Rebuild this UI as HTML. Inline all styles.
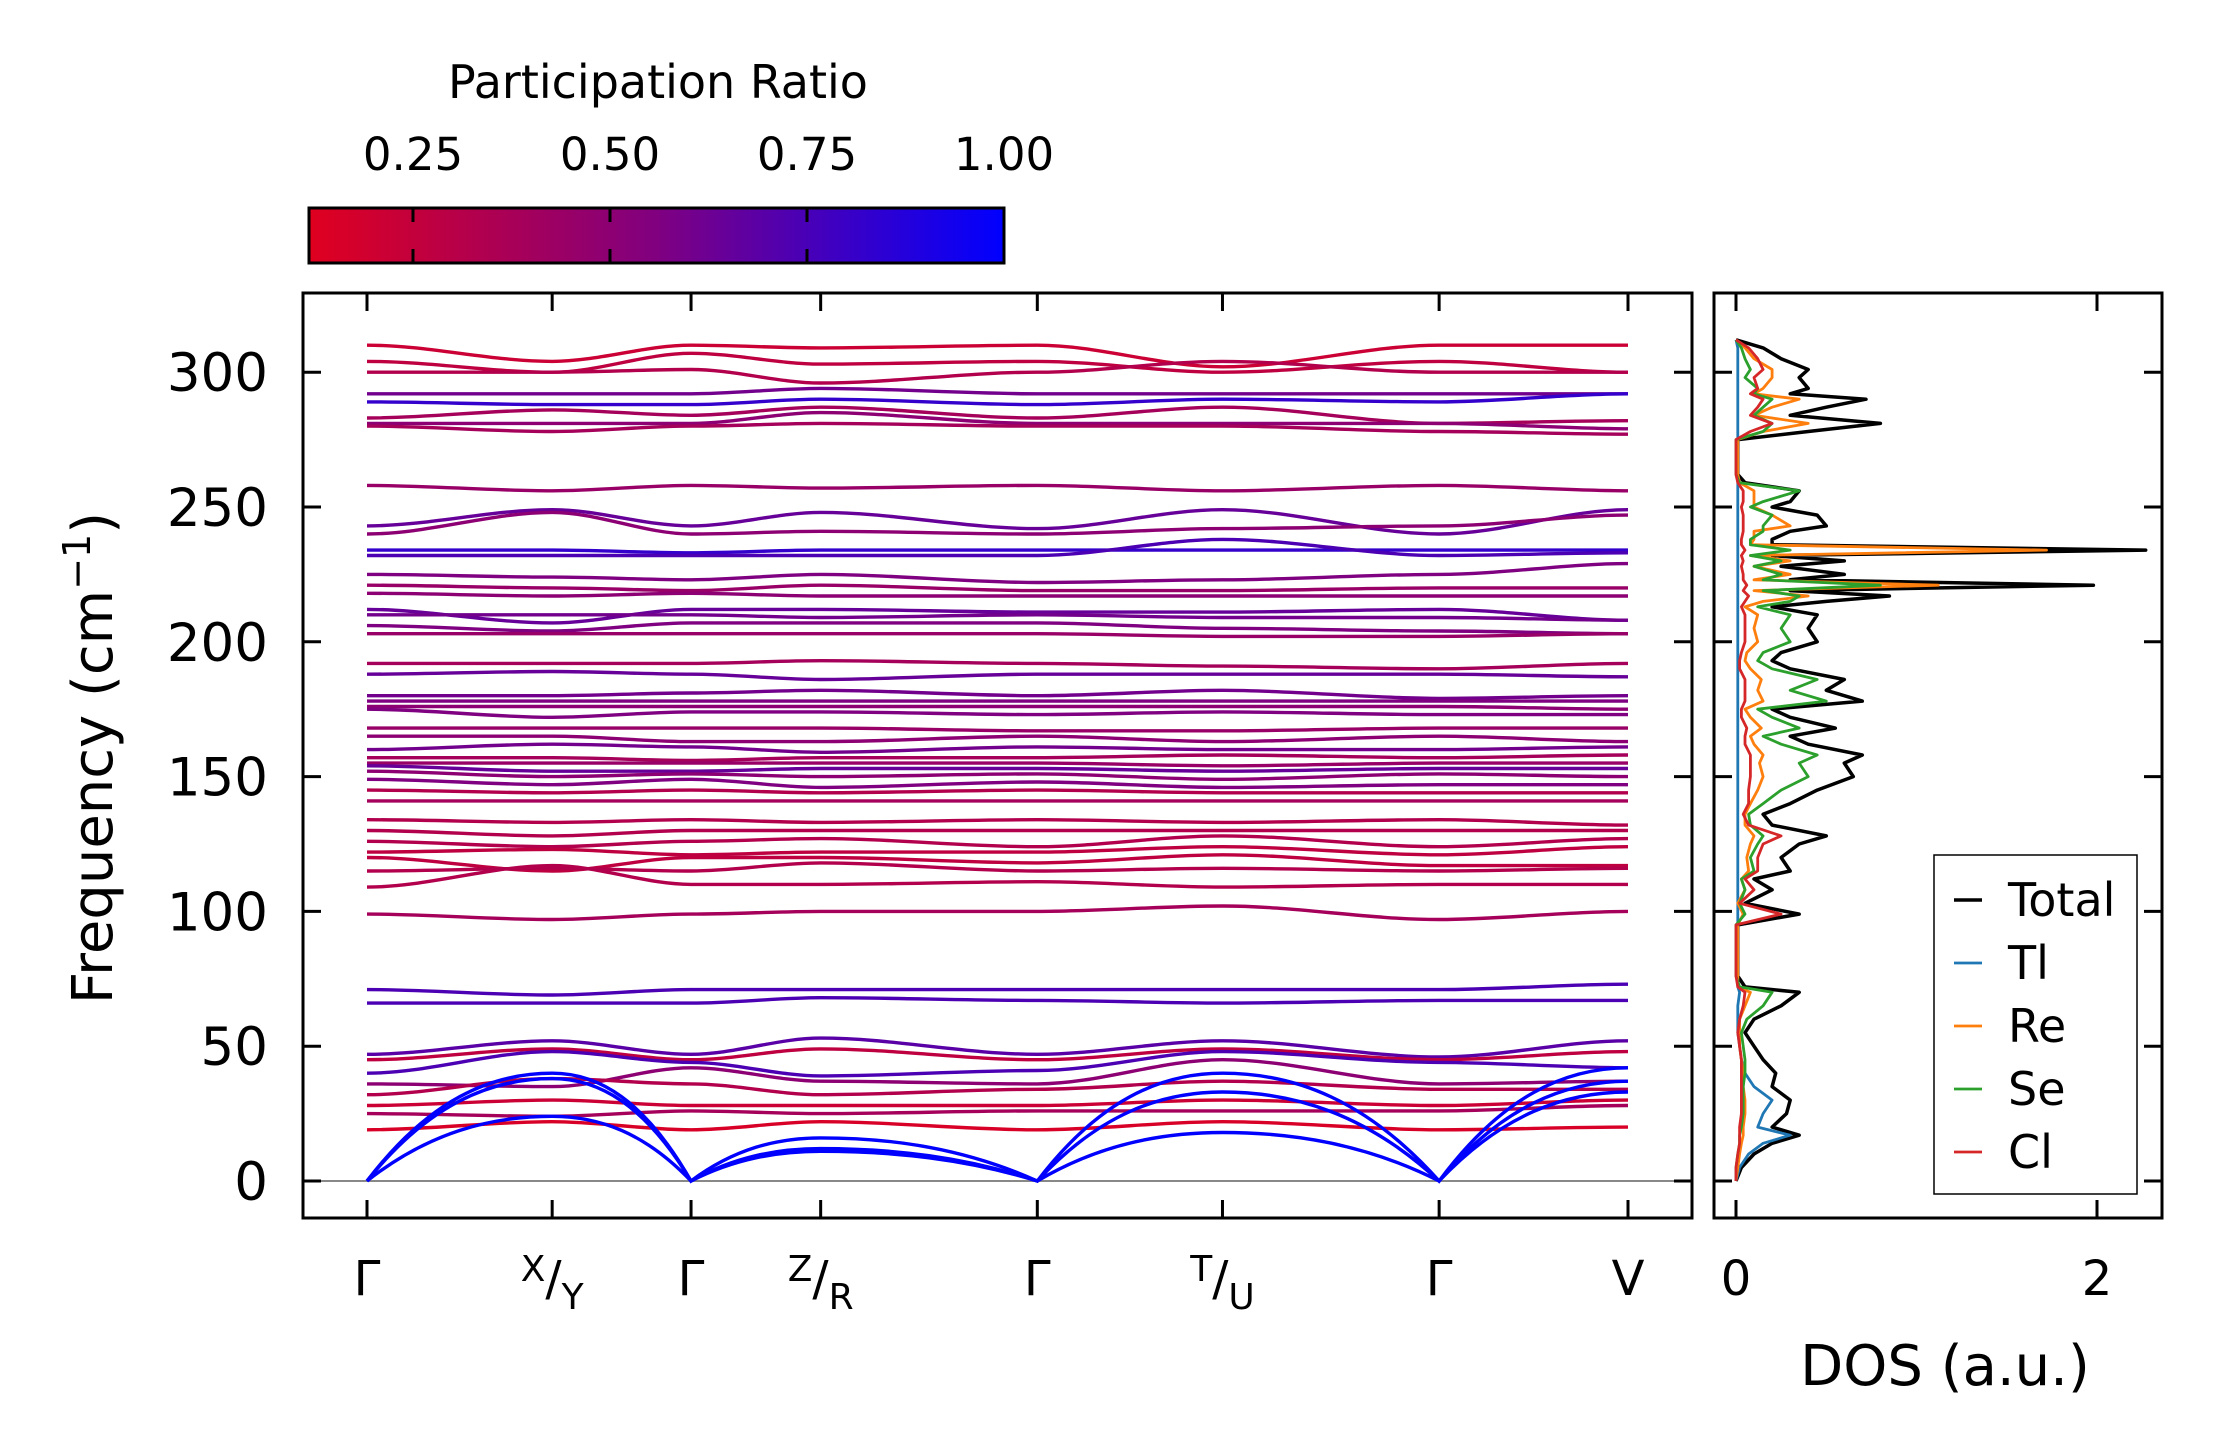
<!DOCTYPE html>
<html><head><meta charset="utf-8"><style>
html,body{margin:0;padding:0;background:#fff;}
svg{display:block;font-family:"DejaVu Sans","Liberation Sans",sans-serif;}
</style></head><body>
<svg id="chart" width="2222" height="1455" viewBox="0 0 2222 1455" xmlns="http://www.w3.org/2000/svg">
<defs>
<linearGradient id="cbgrad" x1="0" x2="1" y1="0" y2="0">
<stop offset="0" stop-color="#e0001f"/><stop offset="0.5" stop-color="#800080"/><stop offset="1" stop-color="#0000ff"/>
</linearGradient>
<clipPath id="mainclip"><rect x="303" y="293" width="1389" height="925"/></clipPath>
<clipPath id="dosclip"><rect x="1714" y="293" width="448" height="925"/></clipPath>
</defs>
<g id="colorbar">
<text x="658" y="98" font-size="46" text-anchor="middle">Participation Ratio</text>
<rect x="309" y="208" width="695" height="55" fill="url(#cbgrad)" stroke="#000" stroke-width="3"/>
</g>
<g id="mainplot">
<line x1="303" x2="1692" y1="1181" y2="1181" stroke="#888" stroke-width="2"/>
<g id="bands" clip-path="url(#mainclip)"></g>
<rect x="303" y="293" width="1389" height="925" fill="none" stroke="#000" stroke-width="3"/>
<g id="mainticks"></g>
<text transform="translate(112,758) rotate(-90)" font-size="56" text-anchor="middle">Frequency (cm<tspan baseline-shift="super" font-size="38">−1</tspan>)</text>
</g>
<g id="dosplot">
<g id="doslines" clip-path="url(#dosclip)"></g>
<rect x="1714" y="293" width="448" height="925" fill="none" stroke="#000" stroke-width="3"/>
<g id="dosticks"></g>
<text x="1945" y="1385" font-size="56" text-anchor="middle">DOS (a.u.)</text>
<g id="legend">
<rect x="1934" y="855" width="203" height="339" fill="#fff" stroke="#000" stroke-width="1.5"/>
</g>
</g>
</svg>
<script>
// ---------- data ----------
const kLabels = ["Γ","X/Y","Γ","Z/R","Γ","T/U","Γ","V"];
const kPositions = [0, 1.0, 1.75, 2.45, 3.62, 4.62, 5.79, 6.81]; // path distance units
const yTicks = [0,50,100,150,200,250,300];
const cbTicks = [0.25,0.50,0.75,1.00];
const cbTickLabels = ["0.25","0.50","0.75","1.00"];
// each band: frequencies at the 8 high-symmetry nodes
const bandFreqs = [
[310,304,310,309,310,302,310,310],[304,300,307,303,304,300,304,300],[300,300,301,296,300,304,300,300],
[292,292,292,294,292,292,292,292],[289,288,288,290,288,290,289,292],[283,286,284,287,283,287,281,282],
[281,281,281,285,281,281,281,279],[280,278,280,281,280,280,278,277],[258,256,258,257,258,256,258,256],
[243,249,243,248,242,249,240,249],[240,248,240,241,240,242,243,247],[234,234,233,234,234,234,234,234],
[232,232,232,232,232,238,232,233],[225,224,223,225,222,223,225,229],[221,220,219,221,219,219,220,220],
[218,217,218,217,217,217,217,217],[212,207,212,212,211,211,212,208],[210,210,210,209,210,209,209,208],
[206,204,207,207,207,205,204,203],[203,203,203,203,203,202,202,203],[192,192,192,193,192,191,190,192],
[188,189,188,186,188,188,188,187],[180,180,181,182,180,182,179,180],[178,178,178,178,178,178,178,178],
[176,176,176,176,176,176,176,175],[175,172,174,174,173,174,173,173],[168,168,168,168,167,167,168,168],
[165,165,163,163,165,163,165,163],[160,162,161,159,161,160,160,161],[157,157,156,157,157,158,157,158],
[155,155,155,155,155,154,155,155],[154,152,152,153,153,152,153,153],[152,150,151,150,151,149,151,150],
[149,147,149,146,148,146,147,147],[145,144,145,144,145,144,144,144],[141,141,141,141,141,141,141,141],
[134,133,134,133,134,133,134,132],[130,128,130,130,130,130,130,130],[126,124,126,127,124,128,124,127],
[122,123,121,122,122,124,121,124],[120,115,120,120,118,121,117,117],[115,116,115,118,115,116,115,116],
[109,117,110,110,111,109,110,110],[99,97,99,100,100,102,97,100],
[71,69,71,71,71,71,71,73],[66,66,66,68,67,66,67,67],[47,52,47,53,47,52,46,52],[45,49,45,49,45,49,45,48],
[40,48,44,39,41,48,44,42],[36,35,42,37,36,45,36,37],[32,38,36,32,34,37,34,34],[28,30,28,28,28,30,28,30],
[25,24,26,25,26,26,26,28],[19,22,19,22,19,22,19,20],
[0,40,0,16,0,40,0,42],[0,38,0,12,0,33,0,37],[0,24,0,11,0,18,0,33]
];
const bandPR = [0.2,0.25,0.3,0.55,0.8,0.35,0.45,0.35,0.4,0.6,0.45,0.8,0.7,0.5,0.4,0.45,0.6,0.55,0.5,0.4,0.35,0.6,0.55,0.5,0.45,0.5,0.4,0.45,0.55,0.35,0.4,0.6,0.45,0.5,0.3,0.35,0.3,0.3,0.3,0.25,0.25,0.3,0.3,0.35,0.7,0.7,0.65,0.25,0.7,0.45,0.3,0.2,0.35,0.15,1,1,1];
// DOS
const dosFreq  = [0,5,10,14,17,20,25,30,35,40,45,50,55,60,65,70,72,76,85,95,99,103,108,112,115,120,125,128,132,136,140,145,150,155,158,162,165,168,172,175,178,182,186,190,193,196,200,205,210,213,215,217,219,221,223,225,228,230,232,234,236,238,241,243,247,250,252,256,259,262,268,275,278,281,284,287,290,292,294,298,301,305,309,312];
const dosTotal = [0,0.03,0.1,0.2,0.35,0.2,0.28,0.3,0.2,0.22,0.15,0.1,0.05,0.1,0.25,0.35,0.05,0.01,0.01,0.01,0.35,0.05,0.2,0.1,0.3,0.25,0.35,0.5,0.2,0.15,0.3,0.45,0.65,0.6,0.7,0.4,0.3,0.55,0.3,0.2,0.7,0.5,0.6,0.3,0.2,0.25,0.45,0.4,0.45,0.2,0.5,0.85,0.3,1.98,0.3,0.6,0.25,0.6,0.2,2.27,0.2,0.2,0.3,0.5,0.45,0.2,0.3,0.35,0.05,0.01,0.01,0.01,0.4,0.8,0.3,0.5,0.72,0.3,0.4,0.35,0.4,0.25,0.15,0];
const dosTl    = [0,0.02,0.07,0.15,0.3,0.12,0.15,0.2,0.1,0.05,0.03,0.02,0.01,0.01,0.01,0.02,0.01,0.01,0.01,0.01,0.01,0.01,0.01,0.01,0.01,0.01,0.01,0.01,0.01,0.01,0.01,0.01,0.01,0.01,0.01,0.01,0.01,0.01,0.01,0.01,0.01,0.01,0.01,0.01,0.01,0.01,0.01,0.01,0.01,0.01,0.01,0.01,0.01,0.01,0.01,0.01,0.01,0.01,0.01,0.01,0.01,0.01,0.01,0.01,0.01,0.01,0.01,0.01,0.01,0.01,0.01,0.01,0.01,0.01,0.01,0.01,0.01,0.01,0.01,0.01,0.01,0.01,0.01,0];
const dosRe    = [0,0.01,0.02,0.03,0.04,0.04,0.05,0.05,0.04,0.04,0.03,0.02,0.02,0.02,0.05,0.08,0.01,0.01,0.01,0.01,0.04,0.01,0.05,0.03,0.07,0.06,0.08,0.1,0.05,0.05,0.08,0.12,0.15,0.13,0.15,0.1,0.08,0.14,0.08,0.05,0.15,0.12,0.14,0.08,0.05,0.06,0.12,0.1,0.12,0.05,0.15,0.4,0.1,1.12,0.1,0.3,0.1,0.3,0.08,1.72,0.08,0.1,0.1,0.3,0.2,0.1,0.1,0.1,0.02,0.01,0.01,0.01,0.15,0.4,0.1,0.2,0.35,0.1,0.15,0.2,0.2,0.1,0.05,0];
const dosSe    = [0,0.0,0.01,0.02,0.02,0.03,0.04,0.04,0.04,0.05,0.05,0.04,0.03,0.06,0.15,0.2,0.02,0.0,0.0,0.0,0.05,0.02,0.05,0.03,0.1,0.08,0.12,0.15,0.08,0.07,0.15,0.25,0.4,0.35,0.45,0.25,0.15,0.35,0.2,0.12,0.5,0.3,0.45,0.2,0.12,0.15,0.3,0.25,0.3,0.12,0.3,0.35,0.15,0.8,0.15,0.25,0.1,0.25,0.08,0.3,0.08,0.08,0.15,0.15,0.2,0.08,0.15,0.35,0.02,0.0,0.0,0.0,0.15,0.2,0.1,0.15,0.2,0.1,0.12,0.05,0.08,0.05,0.03,0];
const dosCl    = [0,0.0,0.01,0.02,0.02,0.02,0.03,0.03,0.03,0.03,0.03,0.02,0.01,0.02,0.04,0.05,0.01,0.0,0.0,0.0,0.25,0.02,0.1,0.05,0.12,0.12,0.15,0.25,0.07,0.04,0.07,0.07,0.08,0.08,0.08,0.05,0.05,0.06,0.03,0.03,0.05,0.05,0.05,0.02,0.02,0.03,0.05,0.05,0.05,0.03,0.05,0.07,0.04,0.06,0.04,0.04,0.03,0.04,0.03,0.05,0.03,0.03,0.04,0.04,0.04,0.03,0.04,0.04,0.01,0.0,0.0,0.0,0.08,0.2,0.08,0.12,0.15,0.08,0.12,0.1,0.15,0.12,0.07,0];
const dosSeriesNames = ["Total","Tl","Re","Se","Cl"];
const dosColors = ["#000000","#1f77b4","#ff7f0e","#2ca02c","#d62728"];
const dosTicks = [0,2];

// ---------- axes ----------
const NS="http://www.w3.org/2000/svg";
const X0=367, X1=1628;
const xk = d => X0 + (d-kPositions[0])/(kPositions[kPositions.length-1]-kPositions[0])*(X1-X0);
const yf = f => 1181 - f*(134.8/50);
const xd = v => 1736 + v*(361/2);
const xcb = p => 413 + (p-0.25)*(197/0.25);
function el(tag, attrs, parent){const e=document.createElementNS(NS,tag);for(const k in attrs)e.setAttribute(k,attrs[k]);parent.appendChild(e);return e;}
function prColor(p){let t=Math.max(0,Math.min(1,(p-0.118)/0.882));const r=Math.round(224*(1-t)),b=Math.round(31*(1-t)+255*t);return `rgb(${r},0,${b})`;}

const bandsG=document.getElementById('bands');
bandFreqs.forEach((bf,i)=>{
  let d=`M${xk(kPositions[0]).toFixed(1)},${yf(bf[0]).toFixed(1)}`;
  for(let j=0;j<bf.length-1;j++){
    const xa=xk(kPositions[j]),xb=xk(kPositions[j+1]),ya=yf(bf[j]),yb=yf(bf[j+1]),dx=xb-xa;
    let c1y=ya,c2y=yb;
    if(bf[j]===0) c1y=ya+(yb-ya)*0.75;
    if(bf[j+1]===0) c2y=yb+(ya-yb)*0.75;
    d+=` C${(xa+dx/3).toFixed(1)},${c1y.toFixed(1)} ${(xb-dx/3).toFixed(1)},${c2y.toFixed(1)} ${xb.toFixed(1)},${yb.toFixed(1)}`;
  }
  const p=el('path',{d:d,fill:'none',stroke:prColor(bandPR[i]),'stroke-width':3.4},bandsG);
  
  
});

const mt=document.getElementById('mainticks');
kPositions.forEach((kp,i)=>{
  const x=xk(kp);
  el('line',{x1:x,x2:x,y1:293,y2:311,stroke:'#000','stroke-width':3},mt);
  el('line',{x1:x,x2:x,y1:1218,y2:1200,stroke:'#000','stroke-width':3},mt);
  const lab=kLabels[i];
  const t=el('text',{x:x,y:1295,'font-size':48,'text-anchor':'middle'},mt);
  
  
  if(lab.includes('/')){
    const [a,b]=lab.split('/');
    t.setAttribute('font-size',36);
    const s1=el('tspan',{dy:-14},t);s1.textContent=a;
    const s2=el('tspan',{dy:14,'font-size':48},t);s2.textContent='/';
    const s3=el('tspan',{dy:14},t);s3.textContent=b;
  } else t.textContent=lab;
});
yTicks.forEach(v=>{
  const y=yf(v);
  el('line',{x1:303,x2:321,y1:y,y2:y,stroke:'#000','stroke-width':3},mt);
  el('line',{x1:1692,x2:1674,y1:y,y2:y,stroke:'#000','stroke-width':3},mt);
  const t=el('text',{x:268,y:y+19,'font-size':53,'text-anchor':'end'},mt);
  
  
  t.textContent=v;
  const dt=document.getElementById('dosticks');
  el('line',{x1:1714,x2:1732,y1:y,y2:y,stroke:'#000','stroke-width':3},dt);
  el('line',{x1:2162,x2:2144,y1:y,y2:y,stroke:'#000','stroke-width':3},dt);
});
// colorbar ticks
const cbG=document.getElementById('colorbar');
cbTicks.forEach((v,i)=>{
  const x=xcb(v);
  if(i<cbTicks.length-1){
    el('line',{x1:x,x2:x,y1:208,y2:222,stroke:'#000','stroke-width':3},cbG);
    el('line',{x1:x,x2:x,y1:249,y2:263,stroke:'#000','stroke-width':3},cbG);
  }
  const t=el('text',{x:x,y:170,'font-size':45,'text-anchor':'middle'},cbG);
  
  
  t.textContent=cbTickLabels[i];
});
// DOS
const dosData=[dosTotal,dosTl,dosRe,dosSe,dosCl];
const dl=document.getElementById('doslines');
for(let s=0;s<dosData.length;s++){
  const pts=dosFreq.map((f,i)=>`${xd(dosData[s][i]).toFixed(1)},${yf(f).toFixed(1)}`).join(' ');
  const pl=el('polyline',{points:pts,fill:'none',stroke:dosColors[s],'stroke-width':s===0?3.5:2.8,'stroke-linejoin':'round'},dl);
  
  
}
const dt=document.getElementById('dosticks');
dosTicks.forEach(v=>{
  const x=xd(v);
  el('line',{x1:x,x2:x,y1:293,y2:311,stroke:'#000','stroke-width':3},dt);
  el('line',{x1:x,x2:x,y1:1218,y2:1200,stroke:'#000','stroke-width':3},dt);
  const t=el('text',{x:x,y:1295,'font-size':48,'text-anchor':'middle'},dt);
  
  
  t.textContent=v;
});
// legend
const lg=document.getElementById('legend');
dosSeriesNames.forEach((n,i)=>{
  const y=900+i*63;
  const ln=el('line',{x1:1954,x2:1982,y1:y,y2:y,stroke:dosColors[i],'stroke-width':i===0?3.5:2.8},lg);
  
  
  const t=el('text',{x:2008,y:y+16,'font-size':46},lg);
  
  
  t.textContent=n;
});
</script>
</body></html>
